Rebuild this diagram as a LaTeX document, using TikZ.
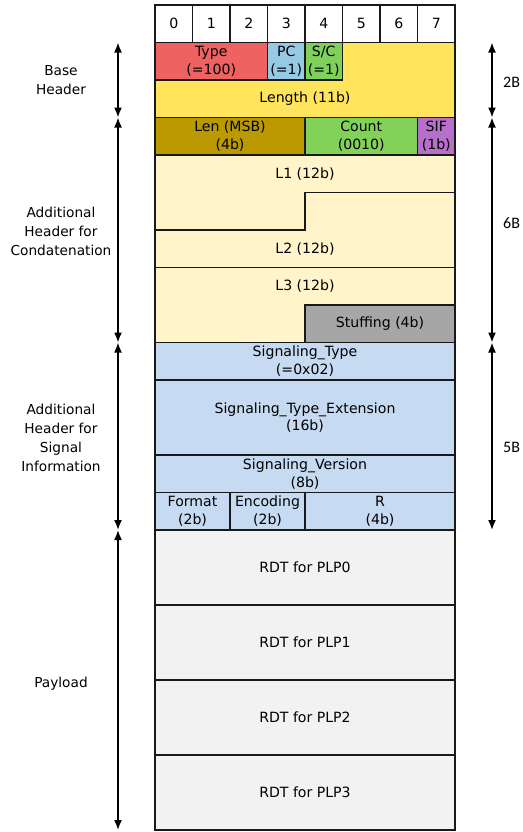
\documentclass[tikz,border=0pt]{standalone}
\usepackage{fontspec}
\setmainfont{DejaVu Sans}
\newfontfamily\sizefont{Carlito}
\usetikzlibrary{arrows.meta,positioning}
\definecolor{typered}{RGB}{238,98,98}
\definecolor{pcblue}{RGB}{150,202,228}
\definecolor{scgreen}{RGB}{128,208,92}
\definecolor{lenyellow}{RGB}{255,228,92}
\definecolor{msbolive}{RGB}{186,154,0}
\definecolor{cntgreen}{RGB}{130,210,90}
\definecolor{sifpurple}{RGB}{182,112,202}
\definecolor{lyellow}{RGB}{255,244,202}
\definecolor{stuffgray}{RGB}{166,166,166}
\definecolor{sigblue}{RGB}{198,218,242}
\definecolor{plgray}{RGB}{242,242,242}
\newcommand{\fieldfont}{\fontsize{14.1}{17.8}\selectfont}
\tikzset{
fld/.style n args = {2}{draw=black!90, line width=1.2pt, rectangle, inner sep=0pt, outer sep=0pt, align=center,
  minimum width=#1*37.5pt, minimum height=#2*37.5pt, font=\fieldfont},
bitcell/.style = {fld={1}{1}, fill=white, anchor=north west},
area/.style = {draw=black!90, line width=1.2pt},
txt/.style = {align=center, font=\fieldfont},
side/.style = {align=center, font=\fontsize{13.7}{19}\selectfont},
bytes/.style = {font=\sizefont\fontsize{16}{19}\selectfont},
span/.style = {<->, line width=1.6pt}
}

\begin{document}
\begin{tikzpicture}[x=37.5pt, y=-37.5pt, >={Latex[length=10pt,width=8pt]}]
    \useasboundingbox (-4.1333,-0.1333) rectangle (9.7867,22.0533);
    % bit numbers
    \foreach \i in {0,...,7}
        \node [bitcell] (bit\i) at (\i,0) {\i};
    % base header
    \draw [area, fill=lenyellow] (0,1) -- (8,1) -- (8,3) -- (0,3) -- cycle;
    \node [fld={3}{1}, fill=typered, anchor=north west] (type) at (0,1) {Type\\(=100)};
    \node [fld={1}{1}, fill=pcblue, right=0pt of type] (pc) {PC\\(=1)};
    \node [fld={1}{1}, fill=scgreen, right=0pt of pc] (sc) {S/C\\(=1)};
    \node [txt] (length) at (4,2.5) {Length (11b)};
    % concatenation header
    \node [fld={4}{1}, fill=msbolive, anchor=north west] (lenmsb) at (0,3) {Len (MSB)\\(4b)};
    \node [fld={3}{1}, fill=cntgreen, right=0pt of lenmsb] (count) {Count\\(0010)};
    \node [fld={1}{1}, fill=sifpurple, right=0pt of count] (sif) {SIF\\(1b)};
    \draw [area, fill=lyellow] (0,4) -- (8,4) -- (8,5) -- (4,5) -- (4,6) -- (0,6) -- cycle;
    \draw [area, fill=lyellow] (4,5) -- (8,5) -- (8,7) -- (0,7) -- (0,6) -- (4,6) -- cycle;
    \draw [area, fill=lyellow] (0,7) -- (8,7) -- (8,8) -- (4,8) -- (4,9) -- (0,9) -- cycle;
    \node [txt] (l1) at (4,4.5) {L1 (12b)};
    \node [txt] (l2) at (4,6.5) {L2 (12b)};
    \node [txt] (l3) at (4,7.5) {L3 (12b)};
    \node [fld={4}{1}, fill=stuffgray, anchor=north west] (stuff) at (4,8) {Stuffing (4b)};
    % signal information header
    \node [fld={8}{1}, fill=sigblue, anchor=north west] (sigtype) at (0,9) {Signaling\_Type\\(=0x02)};
    \node [fld={8}{2}, fill=sigblue, below=0pt of sigtype] (sigext) {Signaling\_Type\_Extension\\(16b)};
    \node [fld={8}{1}, fill=sigblue, below=0pt of sigext] (sigver) {Signaling\_Version\\(8b)};
    \node [fld={2}{1}, fill=sigblue, anchor=north west] (format) at (0,13) {Format\\(2b)};
    \node [fld={2}{1}, fill=sigblue, right=0pt of format] (encoding) {Encoding\\(2b)};
    \node [fld={4}{1}, fill=sigblue, right=0pt of encoding] (rsv) {R\\(4b)};
    % payload
    \foreach \k in {0,...,3}
        \node [fld={8}{2}, fill=plgray, anchor=north west] (rdt\k) at (0,14+2*\k) {RDT for PLP\k};
    % left spans
    \coordinate (la) at (-0.9867,1);
    \coordinate (lb) at (-0.9867,3);
    \coordinate (lc) at (-0.9867,9);
    \coordinate (ld) at (-0.9867,14);
    \coordinate (le) at (-0.9867,22);
    \draw [span] (la) -- (lb);
    \draw [span] (lb) -- (lc);
    \draw [span] (lc) -- (ld);
    \draw [span] (ld) -- (le);
    \node [side] (basehdr) at (-2.507,2) {Base\\Header};
    \node [side] (conchdr) at (-2.507,6.05) {Additional\\Header for\\Condatenation};
    \node [side] (sighdr) at (-2.507,11.55) {Additional\\Header for\\Signal\\Information};
    \node [side] (payload) at (-2.507,18.1) {Payload};
    % right spans
    \coordinate (ra) at (8.9867,1);
    \coordinate (rb) at (8.9867,3);
    \coordinate (rc) at (8.9867,9);
    \coordinate (rd) at (8.9867,14);
    \draw [span] (ra) -- (rb);
    \draw [span] (rb) -- (rc);
    \draw [span] (rc) -- (rd);
    \node [bytes] (two) at (9.51,2.05) {2B};
    \node [bytes] (six) at (9.51,5.81) {6B};
    \node [bytes] (five) at (9.51,11.81) {5B};
\end{tikzpicture}
\end{document}
